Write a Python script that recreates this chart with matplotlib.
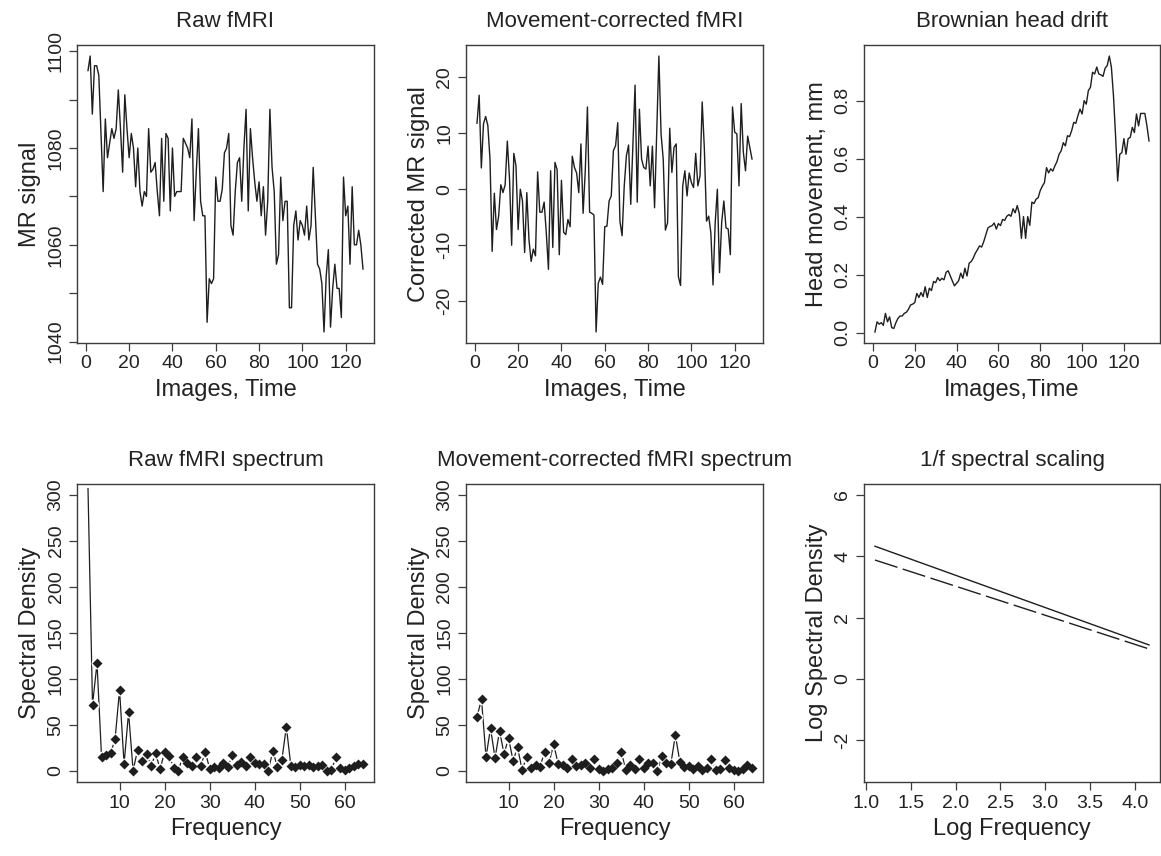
import numpy as np
import matplotlib
matplotlib.use("Agg")
import matplotlib.pyplot as plt

plt.rcParams['font.family'] = ['Liberation Sans', 'DejaVu Sans']
plt.rcParams['axes.unicode_minus'] = False

# raw MR signal, images 1..128
raw_signal = [
    1096, 1099, 1087, 1097, 1097, 1095, 1083, 1071, 1086, 1078,
    1081, 1084, 1082, 1084, 1092, 1084, 1075, 1091, 1084, 1078,
    1083, 1080, 1072, 1080, 1071, 1068, 1071, 1070, 1084, 1075,
    1075.6, 1077, 1071, 1066, 1082, 1069, 1083, 1082, 1067, 1080,
    1070, 1071, 1071, 1071, 1082, 1081, 1080, 1078, 1086, 1065,
    1075, 1084, 1069, 1066, 1066, 1044, 1053, 1052, 1053, 1074,
    1069, 1069, 1071.5, 1079, 1080, 1083, 1064, 1062, 1071, 1077,
    1078, 1069, 1080, 1088, 1067, 1084, 1078, 1073, 1069, 1073,
    1066, 1072, 1062, 1069, 1088, 1076, 1071, 1056, 1058, 1074,
    1065, 1069, 1069, 1047, 1047, 1064, 1067, 1061, 1065, 1064,
    1062, 1068, 1061, 1064, 1076, 1066, 1056, 1055, 1052, 1042,
    1053.5, 1059, 1043, 1051, 1056, 1051, 1051, 1045, 1074, 1066,
    1068, 1056, 1072, 1060, 1060, 1063, 1060, 1055]

# movement-corrected signal, images 1..128
corrected_signal = [
    11.8, 16.8, 3.8, 11.7, 13, 11.4, 5.4, -11.1, -0.7, -7.2,
    -4.8, 0.8, -0.6, 0.8, 8.6, 2, -10, 6.4, 4.2, -7.2,
    0, -2.1, -11.3, -0.6, -9, -12.9, -10.7, -11.9, 3.1, -4.1,
    -4.1, -2.3, -7.8, -14.3, 3.3, -10.4, 4.8, 3.5, -11.7, 1.6,
    -7.7, -8.1, -5.4, -6.7, 5.9, 3.9, 2.9, -0.6, 8.1, -4.3,
    3.3, 14.7, -4.1, -4.3, -4.6, -25.5, -16.8, -15.7, -17, -6.7,
    -6.6, -2.1, -1.2, 6.9, 7.8, 11.9, -5.7, -8.3, 0.6, 6,
    7.9, -2.7, 8, 18.6, -2.3, 14.3, 5.4, 3.9, 3.6, 7.7,
    0.6, 7.7, -3.3, 10, 23.8, 9.9, 5.4, -7.3, -6, 10.9,
    3, 7.5, 8.1, -15.6, -17.2, 0.6, 3.3, -1.2, 2.9, 1.2,
    0.3, 6.4, 0.6, 2.4, 15.6, 7.2, -5.7, -4.8, -7.8, -17.1,
    -6, 0, -14.9, -5.9, -2.1, -6.9, -7.1, -11.7, 14.7, 10.2,
    9.9, 0.6, 15.3, 6.6, 3.3, 9.5, 7.5, 5.4]

# head drift in mm, images 1..132
head_drift = [
    0.002, 0.037, 0.029, 0.034, 0.025, 0.066, 0.037, 0.054, 0.017, 0.014,
    0.034, 0.049, 0.057, 0.057, 0.066, 0.07, 0.08, 0.095, 0.098, 0.103,
    0.135, 0.121, 0.138, 0.124, 0.158, 0.121, 0.153, 0.145, 0.176, 0.172,
    0.19, 0.179, 0.187, 0.182, 0.208, 0.213, 0.195, 0.178, 0.161, 0.17,
    0.179, 0.205, 0.187, 0.222, 0.195, 0.239, 0.245, 0.257, 0.274, 0.286,
    0.299, 0.295, 0.314, 0.338, 0.361, 0.366, 0.369, 0.378, 0.357, 0.376,
    0.369, 0.39, 0.387, 0.401, 0.407, 0.401, 0.427, 0.413, 0.438, 0.41,
    0.325, 0.40, 0.325, 0.40, 0.37, 0.45, 0.445, 0.46, 0.465, 0.49,
    0.505, 0.517, 0.569, 0.551, 0.565, 0.557, 0.575, 0.59, 0.615, 0.627,
    0.655, 0.644, 0.679, 0.676, 0.696, 0.725, 0.722, 0.748, 0.771, 0.754,
    0.80, 0.788, 0.835, 0.846, 0.898, 0.892, 0.916, 0.892, 0.889, 0.884,
    0.912, 0.921, 0.954, 0.916, 0.817, 0.679, 0.523, 0.615, 0.621, 0.669,
    0.615, 0.669, 0.673, 0.708, 0.69, 0.754, 0.713, 0.756, 0.756, 0.756,
    0.713, 0.661]

# spectra at frequencies 3..64
freq = list(range(3, 65))
raw_spec = [
    307, 72, 117, 15.6, 17, 19, 34.5, 88, 7.6, 63.6,
    0.4, 23, 11, 18.5, 5.4, 19, 2, 21, 16, 3.6,
    0.4, 15, 9, 5.4, 15, 5.4, 21, 2.2, 4.7, 3,
    8.4, 4, 17.4, 6.5, 10, 5.4, 15.6, 8.4, 7.6, 7.6,
    0.4, 22, 4.7, 12, 48, 5.4, 4.7, 6.5, 5.4, 6.5,
    4.7, 5.4, 6.5, 0.4, 1, 15, 3.6, 1, 3, 5.4,
    7.6, 7.6]
corr_spec = [
    59, 78, 15, 46.5, 14, 43.6, 18.5, 36, 11, 26,
    1, 15, 3.6, 6.5, 4.7, 21, 9, 29.4, 7.6, 6.5,
    3.6, 12.7, 5.4, 6.5, 8.4, 3.6, 12.7, 2, 0.4, 2,
    3.6, 8.4, 21, 1, 6.5, 2, 12.7, 3.6, 8.4, 9,
    0, 16, 9, 7.6, 39, 10, 4.7, 5.4, 2, 5.4,
    1, 3.6, 12.7, 1, 2, 12, 3, 1, 0.4, 2,
    6, 3]

# 1/f fits: log spectral density at log(3) and log(64)
fit_x = [np.log(3), np.log(64)]
fit_raw = [4.33, 1.11]
fit_corr = [3.88, 0.98]

line_col = '#1e1e1e'
frame_col = '#3c3c3c'
text_col = '#222222'

fig = plt.figure(figsize=(11.61, 8.56), dpi=100)
W, H = 1161.0, 856.0


def make_axes(x0, y0, x1, y1):
    return fig.add_axes([x0 / W, 1 - y1 / H, (x1 - x0) / W, (y1 - y0) / H])


def style(ax, title, xlabel, ylabel):
    for s in ax.spines.values():
        s.set_color(frame_col)
        s.set_linewidth(1.0)
    ax.tick_params(axis='both', direction='out', length=6, width=0.9,
                   color=frame_col, labelsize=14, labelcolor=text_col, pad=3)
    ax.tick_params(axis='y', labelrotation=90)
    for t in ax.get_yticklabels():
        t.set_verticalalignment('center')
    ax.set_title(title, fontsize=16, color=text_col, pad=13)
    ax.set_xlabel(xlabel, fontsize=17, color=text_col, labelpad=5)
    ax.set_ylabel(ylabel, fontsize=17, color=text_col, labelpad=5)


t128 = np.arange(1, len(raw_signal) + 1)
t132 = np.arange(1, len(head_drift) + 1)

# Raw fMRI
ax1 = make_axes(77, 45, 374, 343)
ax1.plot(t128, raw_signal, color=line_col, lw=1.0)
ax1.margins(0.04)
ax1.set_xticks(range(0, 121, 20))
ax1.set_yticks(range(1040, 1101, 10))
ax1.set_yticklabels([str(v) if v % 20 == 0 else '' for v in range(1040, 1101, 10)])
style(ax1, 'Raw fMRI', 'Images, Time', 'MR signal')

# Movement-corrected fMRI
ax2 = make_axes(466, 45, 763, 343)
ax2.plot(t128, corrected_signal, color=line_col, lw=1.0)
ax2.margins(0.04)
ax2.set_xticks(range(0, 121, 20))
ax2.set_yticks(range(-20, 21, 10))
style(ax2, 'Movement-corrected fMRI', 'Images, Time', 'Corrected MR signal')

# Brownian head drift
ax3 = make_axes(864, 45, 1160, 343)
ax3.plot(t132, head_drift, color=line_col, lw=1.0)
ax3.margins(0.04)
ax3.set_xticks(range(0, 121, 20))
ax3.set_yticks([0.0, 0.2, 0.4, 0.6, 0.8])
ax3.set_yticklabels(['0.0', '0.2', '0.4', '0.6', '0.8'])
style(ax3, 'Brownian head drift', 'Images,Time', 'Head movement, mm')


def spectrum(ax, f, s, first_marker):
    ax.plot(f, s, color=line_col, lw=0.9, zorder=2)
    ax.plot(f[first_marker:], s[first_marker:], 'o', ms=8.5, color='white',
            mec='none', zorder=3)
    ax.plot(f[first_marker:], s[first_marker:], 'D', ms=4.6, color=line_col,
            mec='none', zorder=4)
    ax.set_xlim(3 - 0.04 * 61, 64 + 0.04 * 61)
    ax.set_ylim(-12, 312)
    ax.set_xticks(range(10, 61, 10))
    ax.set_yticks(range(0, 301, 50))


# Raw spectrum
ax4 = make_axes(77, 484, 374, 782)
spectrum(ax4, freq, raw_spec, 1)
style(ax4, 'Raw fMRI spectrum', 'Frequency', 'Spectral Density')

# Corrected spectrum
ax5 = make_axes(466, 484, 763, 782)
spectrum(ax5, freq, corr_spec, 0)
style(ax5, 'Movement-corrected fMRI spectrum', 'Frequency', 'Spectral Density')

# 1/f scaling
ax6 = make_axes(864, 484, 1160, 782)
ax6.plot(fit_x, fit_raw, color=line_col, lw=1.0)
ax6.plot(fit_x, fit_corr, color=line_col, lw=1.0, linestyle=(0, (17, 4)))
span = fit_x[1] - fit_x[0]
ax6.set_xlim(fit_x[0] - 0.04 * span, fit_x[1] + 0.04 * span)
ax6.set_ylim(-3.36, 6.36)
ax6.set_xticks([1.0, 1.5, 2.0, 2.5, 3.0, 3.5, 4.0])
ax6.set_xticklabels(['1.0', '1.5', '2.0', '2.5', '3.0', '3.5', '4.0'])
ax6.set_yticks([-2, 0, 2, 4, 6])
style(ax6, '1/f spectral scaling', 'Log Frequency', 'Log Spectral Density')

fig.savefig('out.png', dpi=100, facecolor='white')
